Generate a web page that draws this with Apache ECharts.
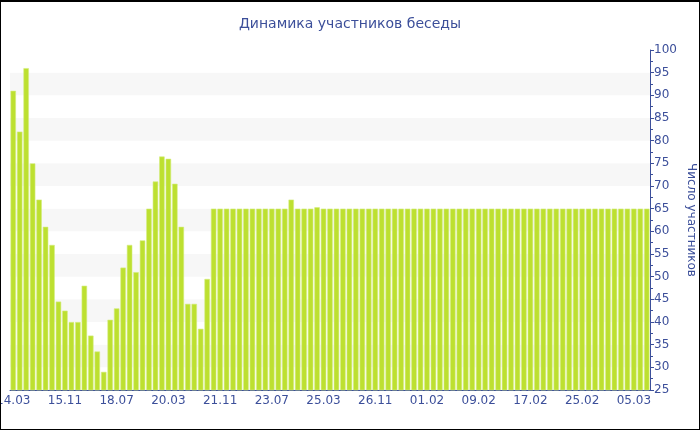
<!DOCTYPE html>
<html>
<head>
<meta charset="utf-8">
<script src="https://cdn.jsdelivr.net/npm/echarts@6/dist/echarts.min.js"></script>
<style>
  html, body { margin: 0; padding: 0; background: #fff; }
  .chart-wrap { position: relative; width: 700px; height: 430px; }
  #chart { position: absolute; left: 0; top: 0; width: 700px; height: 430px; }
  .frame { position: absolute; left: 0; top: 0; width: 700px; height: 430px; box-sizing: border-box; border: 1px solid #000; border-top-width: 2px; pointer-events: none; }
</style>
</head>
<body>
<div class="chart-wrap">
  <div id="chart"></div>
  <div class="frame"></div>
</div>
<script>
// labels shown under every 8th bar
const tickLabels = ['14.03', '15.11', '18.07', '20.03', '21.11', '23.07', '25.03', '26.11', '01.02', '09.02', '17.02', '25.02', '05.03']
const labelStep = 8

// participants per period
const values = [
  91, 82, 96, 75, 67, 61, 57, 44.5, 42.5, 40,
  40, 48, 37, 33.5, 29, 40.5, 43, 52, 57, 51,
  58, 65, 71, 76.5, 76, 70.5, 61, 44, 44, 38.5,
  49.5, 65, 65, 65, 65, 65, 65, 65, 65, 65,
  65, 65, 65, 67, 65, 65, 65, 65.3, 65, 65,
  65, 65, 65, 65, 65, 65, 65, 65, 65, 65,
  65, 65, 65, 65, 65, 65, 65, 65, 65, 65,
  65, 65, 65, 65, 65, 65, 65, 65, 65, 65,
  65, 65, 65, 65, 65, 65, 65, 65, 65, 65,
  65, 65, 65, 65, 65, 65, 65, 65, 65
]
const categories = values.map((v, i) => String(i))

const textColor = '#3c4f9a'
const font = 'DejaVu Sans'

const chart = echarts.init(document.getElementById('chart'))
chart.setOption({
  animation: false,
  title: {
    text: 'Динамика участников беседы',
    left: 'center',
    top: 12,
    textStyle: { color: textColor, fontFamily: font, fontSize: 14, fontWeight: 'normal' }
  },
  grid: { left: 10, right: 50, top: 50, bottom: 40, outerBoundsMode: 'none' },
  xAxis: {
    type: 'category',
    data: categories,
    boundaryGap: true,
    axisLine: { lineStyle: { color: textColor, width: 1 } },
    axisTick: { alignWithLabel: true, interval: labelStep - 1, length: 4, lineStyle: { color: textColor } },
    axisLabel: {
      interval: labelStep - 1,
      color: textColor,
      fontFamily: font,
      fontSize: 12,
      margin: 5,
      formatter: (v, i) => tickLabels[i / labelStep] || ''
    }
  },
  yAxis: {
    type: 'value',
    position: 'right',
    min: 25,
    max: 100,
    interval: 5,
    name: 'Число участников',
    nameLocation: 'middle',
    nameRotate: -90,
    nameGap: 35,
    nameMoveOverlap: false,
    nameTextStyle: { color: textColor, fontFamily: font, fontSize: 12 },
    axisLine: { show: true, lineStyle: { color: textColor } },
    axisTick: { show: true, length: 4, lineStyle: { color: textColor } },
    minorTick: { show: true, splitNumber: 2, length: 3, lineStyle: { color: textColor } },
    axisLabel: { color: textColor, fontFamily: font, fontSize: 12, margin: 4 },
    splitLine: { show: false },
    splitArea: { show: true, areaStyle: { color: ['#ffffff', '#f7f7f7'] } }
  },
  series: [
    {
      type: 'bar',
      data: values,
      barCategoryGap: '16%',
      itemStyle: { color: '#bde030', borderColor: '#d4ec7e', borderWidth: 0.6 }
    }
  ]
})
</script>
</body>
</html>
